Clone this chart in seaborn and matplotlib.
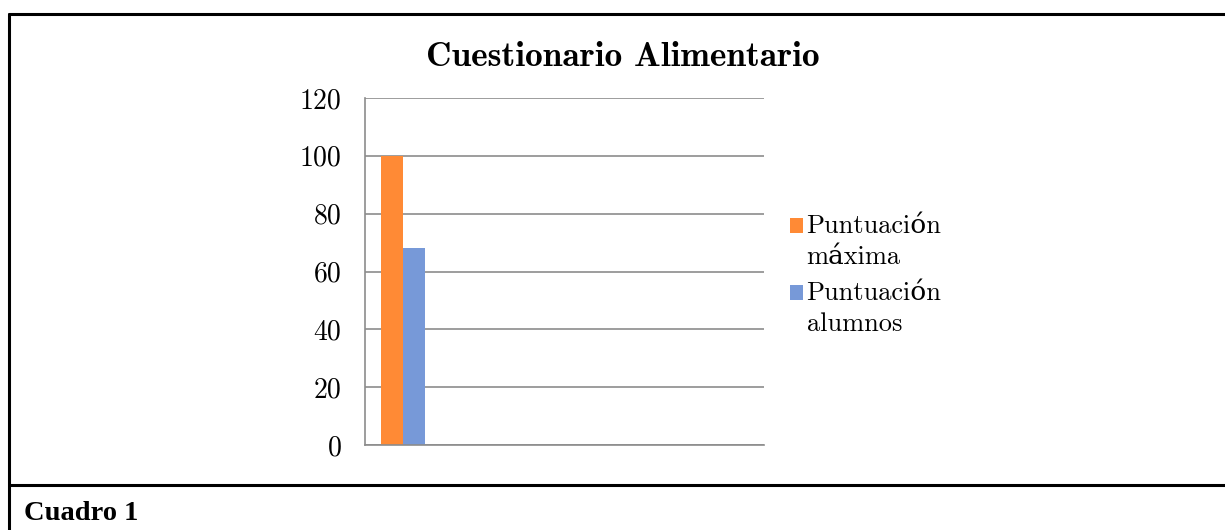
import matplotlib
matplotlib.use("Agg")
import matplotlib.pyplot as plt
import seaborn as sns
import pandas as pd
from matplotlib.lines import Line2D
from matplotlib.patches import Rectangle
from matplotlib.legend_handler import HandlerPatch

categories = [""]
series = ["Puntuación\nmáxima", "Puntuación\nalumnos"]
values_max = [100]
values_alumnos = [68]
yticks = [0, 20, 40, 60, 80, 100, 120]
colors = ["#FF8A35", "#7799D8"]

df = pd.DataFrame({
    "cat": categories * 2,
    "serie": [series[0]] * len(categories) + [series[1]] * len(categories),
    "valor": values_max + values_alumnos,
})

sns.set_theme(style="white")
serif = ["cmr10", "DejaVu Serif"]
plt.rcParams["axes.formatter.use_mathtext"] = True
plt.rcParams["text.color"] = "black"
plt.rcParams["ytick.color"] = "black"

fig = plt.figure(figsize=(12.25, 5.3), dpi=100)
ax = fig.add_axes([365/1225, 1-445/530, (764-365)/1225, (445-98)/530])

sns.barplot(data=df, x="cat", y="valor", hue="serie", palette=colors,
            width=0.8, saturation=1, ax=ax, legend=True, linewidth=0)

ax.set_xlim(-0.4 - 16/55, -0.4 - 16/55 + 399/55)
ax.set_ylim(0, 120)
ax.set_yticks(yticks)
ax.set_yticklabels([str(v) for v in yticks], fontfamily=serif, fontsize=20, color="black")
ax.set_xticks([])
ax.set_xlabel("")
ax.set_ylabel("")
ax.yaxis.grid(True, color="#8c8c8c", linewidth=1.2)
ax.set_axisbelow(True)
for s in ["top", "right"]:
    ax.spines[s].set_visible(False)
for s in ["left", "bottom"]:
    ax.spines[s].set_color("#8c8c8c")
    ax.spines[s].set_linewidth(1.2)
ax.tick_params(axis="y", length=0, pad=17)

leg_fs = 19


def top_square(legend, orig_handle, xdescent, ydescent, width, height, fontsize):
    return Rectangle((-xdescent, -ydescent + 0.62 * fontsize), width, height)


handles, labels = ax.get_legend_handles_labels()
leg = ax.legend(handles, labels, loc="center left", bbox_to_anchor=(1 + 13/399, 0.49),
                frameon=False, borderpad=0,
                prop={"family": serif, "size": leg_fs}, handlelength=0.5,
                handleheight=0.5, handletextpad=0.12, labelspacing=0.45,
                handler_map={h: HandlerPatch(patch_func=top_square) for h in handles})
for t in leg.get_texts():
    t.set_linespacing(1.4)

fig.text(623/1225, 1-58/530, "Cuestionario Alimentario", ha="center", va="center",
         fontfamily=["cmb10", "DejaVu Serif"], fontsize=25.5, fontweight="bold", color="black")

fig.text(24/1225, 1-513/530, "Cuadro 1", ha="left", va="center",
         fontfamily=["Liberation Serif"], fontsize=20.5, fontweight="bold", color="black")

lw = 2.2
fig.add_artist(Line2D([9/1225, 1], [1-14/530, 1-14/530], transform=fig.transFigure, color="black", lw=lw))
fig.add_artist(Line2D([9/1225, 9/1225], [0, 1-14/530], transform=fig.transFigure, color="black", lw=lw))
fig.add_artist(Line2D([9/1225, 1], [1-485/530, 1-485/530], transform=fig.transFigure, color="black", lw=lw))

fig.savefig("out.png", dpi=100, facecolor="white")
